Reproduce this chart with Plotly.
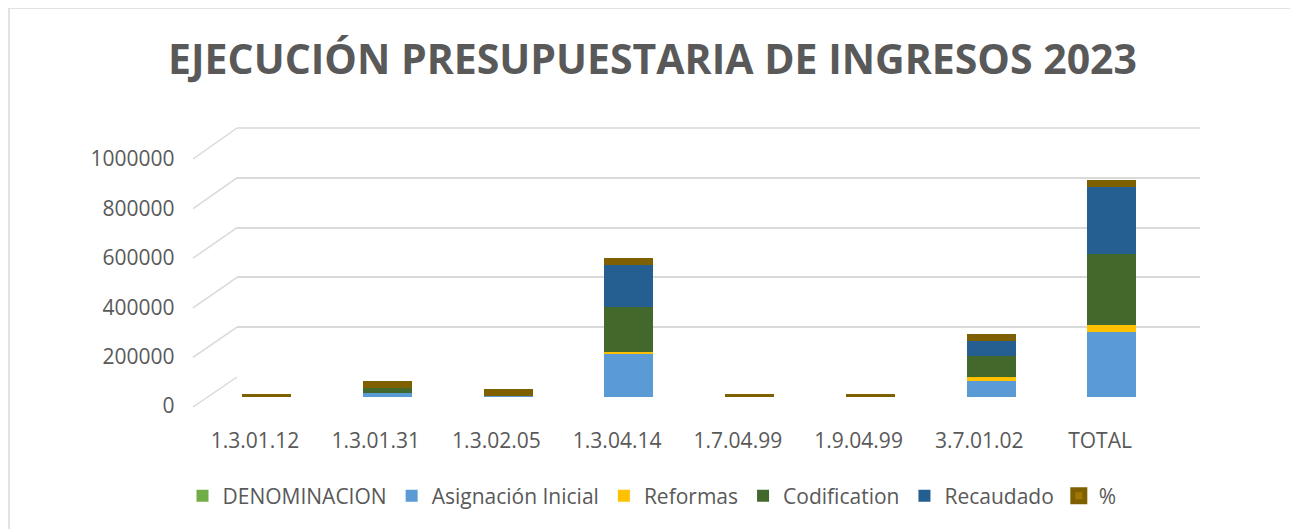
import plotly.graph_objects as go

# ---------------- data ----------------
categories = ["1.3.01.12", "1.3.01.31", "1.3.02.05", "1.3.04.14",
              "1.7.04.99", "1.9.04.99", "3.7.01.02", "TOTAL"]
denominacion = [None] * 8
asignacion_inicial = [0, 17000, 7000, 175000, 0, 0, 64000, 263000]
reformas = [0, 1000, 0, 8000, 0, 0, 18000, 27000]
codification = [0, 18000, 7000, 183000, 0, 0, 82000, 290000]
recaudado = [0, 15000, 6000, 184000, 0, 0, 78000, 283000]
porcentaje = [0, 0.83, 0.86, 1.0, 0, 0, 0.95, 0.98]
y_ticks = [0, 200000, 400000, 600000, 800000, 1000000]

title_text = "EJECUCIÓN PRESUPUESTARIA DE INGRESOS 2023"

# ---------------- layout constants (screen pixels) ----------------
OFF = 8                                     # page body margin
W, H = 1298, 529
L, R, T, B = 193 - OFF, 1200 - OFF, 128 - OFF, 397 - OFF
FRONT_X0, FRONT_X1 = 194.6 - OFF, 1160.4 - OFF
BACK_X0 = 237 - OFF
BAR_TOP_Y = 150 - OFF
BACK_ZERO_Y = 377 - OFF
FRONT_ZERO_Y, FRONT_TOP_Y = 407 - OFF, 159 - OFF

TXT = "#595959"
FONT = "Open Sans"
GRID = "#D9D9D9"


def fx(px):
    return (px - L) / (R - L)


def fy(py):
    return (B - py) / (B - T)


fig = go.Figure()

# empty trace holding the back-wall grid axes (first subplot -> drawn below bars)
fig.add_trace(go.Scatter(x=[None], y=[None], xaxis="x", yaxis="y",
                         showlegend=False, hoverinfo="skip"))

series = [
    ("DENOMINACION", denominacion, "#70AD47"),
    ("Asignación Inicial", asignacion_inicial, "#5B9BD5"),
    ("Reformas", reformas, "#FFC000"),
    ("Codification", codification, "#43682B"),
    ("Recaudado", recaudado, "#255E91"),
]
bw = 0.406
off = -bw / 2 + 0.097
for name, vals, col in series:
    fig.add_trace(go.Bar(name=name, x=categories, y=vals, marker_color=col,
                         marker_line_width=0, width=bw, offset=off,
                         xaxis="x2", yaxis="y2"))
fig.add_trace(go.Bar(name="%", x=categories, y=porcentaje, marker_color="#9E7800",
                     marker_line=dict(color="#7F6000", width=7), width=bw, offset=off,
                     xaxis="x2", yaxis="y2"))

# left-wall diagonal gridlines
shapes = []
for v in y_ticks:
    yf = FRONT_ZERO_Y + (FRONT_TOP_Y - FRONT_ZERO_Y) * v / 1e6
    yb = BACK_ZERO_Y + (T - BACK_ZERO_Y) * v / 1e6
    shapes.append(dict(type="line", xref="paper", yref="paper",
                       x0=fx(L), y0=fy(yf), x1=fx(BACK_X0), y1=fy(yb),
                       line=dict(color=GRID, width=1.5), layer="below"))
# back-wall top gridline
shapes.append(dict(type="line", xref="paper", yref="paper",
                   x0=fx(BACK_X0), y0=1, x1=1, y1=1,
                   line=dict(color=GRID, width=1.5), layer="below"))
# outer chart border
shapes.append(dict(type="rect", xref="paper", yref="paper",
                   x0=fx(9 - OFF), y0=fy(545), x1=fx(1295 - OFF), y1=fy(8 - OFF),
                   line=dict(color=GRID, width=1.5)))

fig.update_layout(
    width=W, height=H,
    margin=dict(l=L, r=W - R, t=T, b=H - B),
    paper_bgcolor="white", plot_bgcolor="rgba(0,0,0,0)",
    barmode="stack",
    font=dict(family=FONT, color=TXT, size=21),
    title=dict(text=title_text, x=(652.5 - OFF) / W, xanchor="center", xref="container",
               y=1 - (45 - OFF) / H, yanchor="top", yref="container",
               font=dict(family=FONT, size=41, color=TXT, weight="bold")),
    # back wall grid
    xaxis=dict(domain=[fx(BACK_X0), 1], range=[0, 1], anchor="y", visible=False),
    yaxis=dict(domain=[fy(BACK_ZERO_Y), 1], range=[0, 1e6], tickvals=y_ticks,
               anchor="x", showgrid=True, gridcolor=GRID, gridwidth=1.5,
               zeroline=False, showline=False, showticklabels=False, ticks=""),
    # bars + labels
    xaxis2=dict(domain=[fx(FRONT_X0), fx(FRONT_X1)], type="category", anchor="y2",
                showgrid=False, zeroline=False, showline=False, ticks="",
                ticklabelstandoff=29, tickfont=dict(size=21, color=TXT)),
    yaxis2=dict(domain=[0, fy(BAR_TOP_Y)], range=[0, 1e6], tickvals=y_ticks,
                tickformat="d", anchor="x2",
                showgrid=False, zeroline=False, showline=False, ticks="",
                ticklabelshift=9, ticklabelstandoff=19,
                tickfont=dict(size=21, color=TXT)),
    legend=dict(orientation="h", x=(652 - OFF) / W, xanchor="center", xref="container",
                y=1 - (496 - OFF) / H, yanchor="middle", yref="container",
                font=dict(size=21, color=TXT), traceorder="normal"),
    shapes=shapes,
    showlegend=True,
)

fig.write_html("out.html")
